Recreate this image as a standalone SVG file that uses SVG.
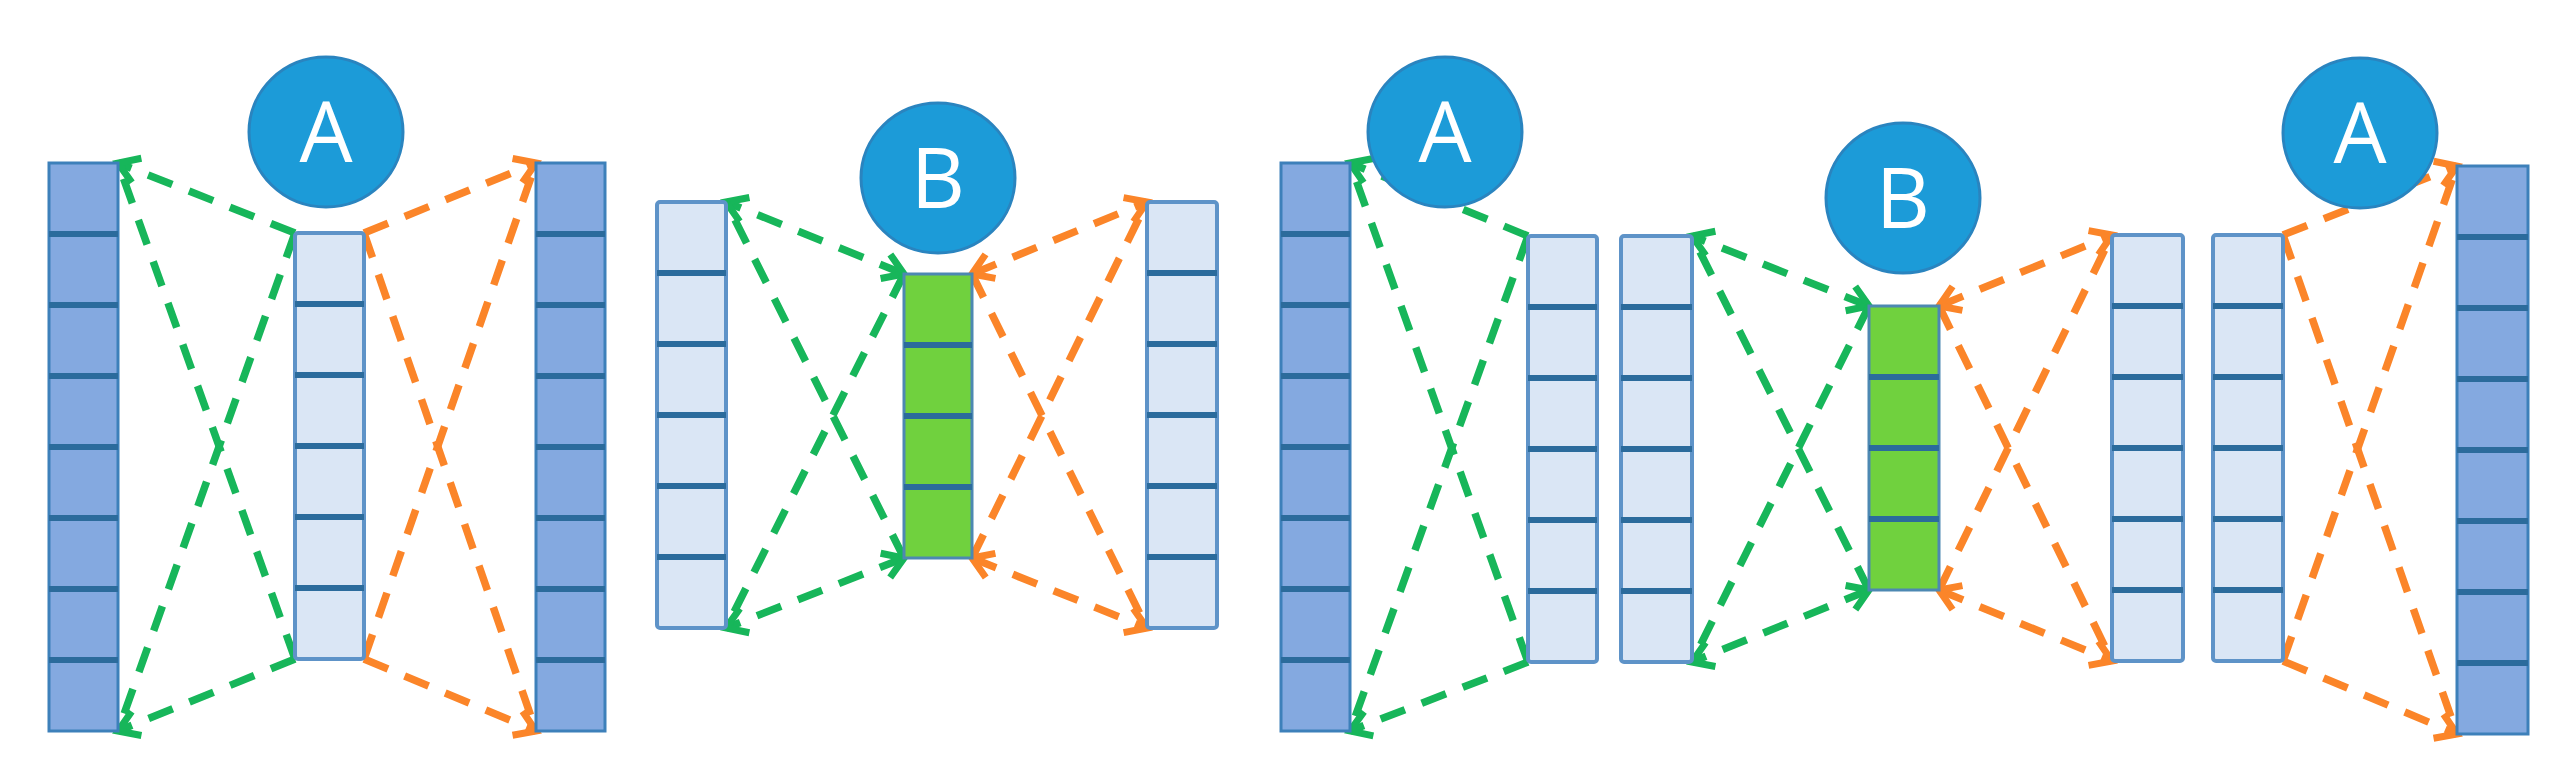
<svg xmlns="http://www.w3.org/2000/svg" width="2576" height="784" viewBox="0 0 2576 784">
<style>
.g{fill:none;stroke:#17b65a;stroke-width:7.5;stroke-dasharray:26 18}
.o{fill:none;stroke:#fb8529;stroke-width:7.5;stroke-dasharray:26 18}
.dk{fill:#84a9e0;stroke:#3d80ba;stroke-width:3}
.lt{fill:#dae6f5;stroke:#5e93c8;stroke-width:4}
.gr{fill:#70d13e;stroke:#4d88b2;stroke-width:3}
.sep{fill:none;stroke:#2b6b9c;stroke-width:6}
.c{fill:#1c9bd8;stroke:#2a84bf;stroke-width:3}
.t{fill:#ffffff;font-family:"Open Sans","Liberation Sans",sans-serif;font-size:84px;text-anchor:middle}
</style>
<defs>
<marker id="mg" markerUnits="userSpaceOnUse" markerWidth="30" markerHeight="30" refX="0" refY="0" orient="auto-start-reverse" overflow="visible"><path d="M-20,-13 L0,0 L-20,13" fill="none" stroke="#17b65a" stroke-width="7"/></marker>
<marker id="mo" markerUnits="userSpaceOnUse" markerWidth="30" markerHeight="30" refX="0" refY="0" orient="auto-start-reverse" overflow="visible"><path d="M-20,-13 L0,0 L-20,13" fill="none" stroke="#fb8529" stroke-width="7"/></marker>
</defs>
<rect width="2576" height="784" fill="#ffffff"/>
<g id="connectors">
<path class="g" d="M295,233 L118,163" marker-end="url(#mg)"/>
<path class="g" d="M295,659 L118,731" marker-end="url(#mg)"/>
<path class="g" d="M295,233 L118,731"/>
<path class="g" d="M295,659 L118,163"/>
<path class="o" d="M364,233 L536,163" marker-end="url(#mo)"/>
<path class="o" d="M364,659 L536,731" marker-end="url(#mo)"/>
<path class="o" d="M364,233 L536,731"/>
<path class="o" d="M364,659 L536,163"/>
<path class="g" d="M904,274 L726,202" marker-start="url(#mg)" marker-end="url(#mg)"/>
<path class="g" d="M904,558 L726,628" marker-start="url(#mg)" marker-end="url(#mg)"/>
<path class="g" d="M904,274 L726,628"/>
<path class="g" d="M904,558 L726,202"/>
<path class="o" d="M972,274 L1147,202" marker-start="url(#mo)" marker-end="url(#mo)"/>
<path class="o" d="M972,558 L1147,628" marker-start="url(#mo)" marker-end="url(#mo)"/>
<path class="o" d="M972,274 L1147,628"/>
<path class="o" d="M972,558 L1147,202"/>
<path class="g" d="M1528,236 L1350,163" marker-end="url(#mg)"/>
<path class="g" d="M1528,662 L1350,731" marker-end="url(#mg)"/>
<path class="g" d="M1528,236 L1350,731"/>
<path class="g" d="M1528,662 L1350,163"/>
<path class="g" d="M1869,306 L1692,236" marker-start="url(#mg)" marker-end="url(#mg)"/>
<path class="g" d="M1869,590 L1692,662" marker-start="url(#mg)" marker-end="url(#mg)"/>
<path class="g" d="M1869,306 L1692,662"/>
<path class="g" d="M1869,590 L1692,236"/>
<path class="o" d="M1939,306 L2112,235" marker-start="url(#mo)" marker-end="url(#mo)"/>
<path class="o" d="M1939,590 L2112,661" marker-start="url(#mo)" marker-end="url(#mo)"/>
<path class="o" d="M1939,306 L2112,661"/>
<path class="o" d="M1939,590 L2112,235"/>
<path class="o" d="M2283,235 L2457,166" marker-end="url(#mo)"/>
<path class="o" d="M2283,661 L2457,734" marker-end="url(#mo)"/>
<path class="o" d="M2283,235 L2457,734"/>
<path class="o" d="M2283,661 L2457,166"/>
</g>
<g id="L1"><rect class="dk" x="49" y="163" width="69" height="568"/><path class="sep" d="M49,234h69M49,305h69M49,376h69M49,447h69M49,518h69M49,589h69M49,660h69"/></g>
<g id="M1"><rect class="lt" x="295" y="233" width="69" height="426" rx="3"/><path class="sep" d="M295,304h69M295,375h69M295,446h69M295,517h69M295,588h69"/></g>
<g id="R1"><rect class="dk" x="536" y="163" width="69" height="568"/><path class="sep" d="M536,234h69M536,305h69M536,376h69M536,447h69M536,518h69M536,589h69M536,660h69"/></g>
<g id="L2"><rect class="lt" x="657" y="202" width="69" height="426" rx="3"/><path class="sep" d="M657,273h69M657,344h69M657,415h69M657,486h69M657,557h69"/></g>
<g id="G1"><rect class="gr" x="904" y="274" width="68" height="284"/><path class="sep" d="M904,345h68M904,416h68M904,487h68"/></g>
<g id="R2"><rect class="lt" x="1147" y="202" width="70" height="426" rx="3"/><path class="sep" d="M1147,273h70M1147,344h70M1147,415h70M1147,486h70M1147,557h70"/></g>
<g id="L3"><rect class="dk" x="1281" y="163" width="69" height="568"/><path class="sep" d="M1281,234h69M1281,305h69M1281,376h69M1281,447h69M1281,518h69M1281,589h69M1281,660h69"/></g>
<g id="M3a"><rect class="lt" x="1528" y="236" width="69" height="426" rx="3"/><path class="sep" d="M1528,307h69M1528,378h69M1528,449h69M1528,520h69M1528,591h69"/></g>
<g id="M3b"><rect class="lt" x="1621" y="236" width="71" height="426" rx="3"/><path class="sep" d="M1621,307h71M1621,378h71M1621,449h71M1621,520h71M1621,591h71"/></g>
<g id="G2"><rect class="gr" x="1869" y="306" width="70" height="284"/><path class="sep" d="M1869,377h70M1869,448h70M1869,519h70"/></g>
<g id="M3c"><rect class="lt" x="2112" y="235" width="71" height="426" rx="3"/><path class="sep" d="M2112,306h71M2112,377h71M2112,448h71M2112,519h71M2112,590h71"/></g>
<g id="M3d"><rect class="lt" x="2213" y="235" width="70" height="426" rx="3"/><path class="sep" d="M2213,306h70M2213,377h70M2213,448h70M2213,519h70M2213,590h70"/></g>
<g id="R3"><rect class="dk" x="2457" y="166" width="71" height="568"/><path class="sep" d="M2457,237h71M2457,308h71M2457,379h71M2457,450h71M2457,521h71M2457,592h71M2457,663h71"/></g>
<g id="A1"><ellipse class="c" cx="326" cy="132" rx="77" ry="75"/><text class="t" x="326" y="162">A</text></g>
<g id="B1"><ellipse class="c" cx="938" cy="178" rx="77" ry="75"/><text class="t" x="938" y="208">B</text></g>
<g id="A2"><ellipse class="c" cx="1445" cy="132" rx="77" ry="75"/><text class="t" x="1445" y="162">A</text></g>
<g id="B2"><ellipse class="c" cx="1903" cy="198" rx="77" ry="75"/><text class="t" x="1903" y="228">B</text></g>
<g id="A3"><ellipse class="c" cx="2360" cy="133" rx="77" ry="75"/><text class="t" x="2360" y="163">A</text></g>
</svg>
